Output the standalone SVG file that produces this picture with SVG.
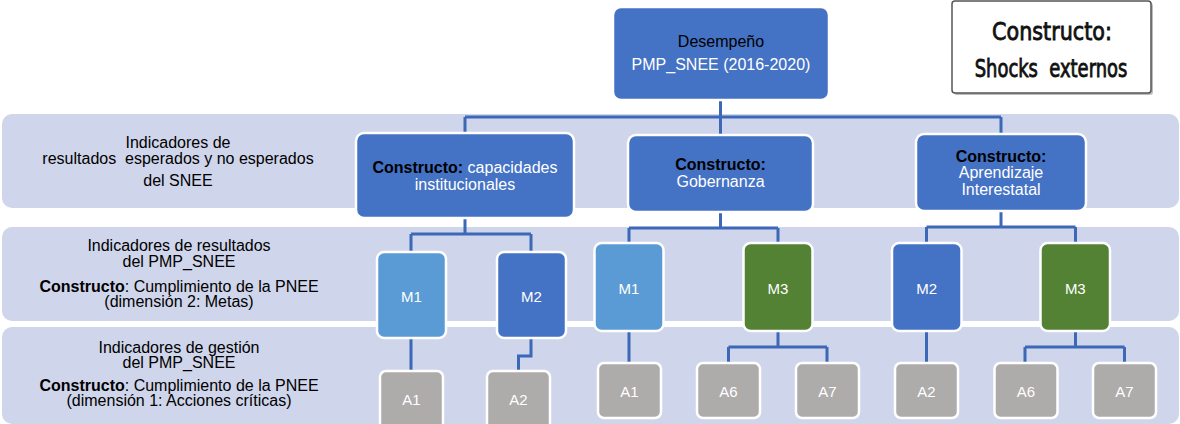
<svg xmlns="http://www.w3.org/2000/svg" width="1180" height="424" viewBox="0 0 1180 424">
<defs>
<style>
.band{fill:#CFD5EA;}
.t{font-family:"Liberation Sans",Arial,sans-serif;font-size:16px;fill:#000;text-anchor:middle;}
.w{fill:#fff;}
.b{font-weight:bold;fill:#000;}
.box{stroke:#fff;stroke-width:2.5;}
.dark{fill:#4472C4;}
.light{fill:#5B9BD5;}
.green{fill:#548235;}
.gray{fill:#AEABAB;}
.lbl{font-family:"Liberation Sans",Arial,sans-serif;font-size:15px;fill:#fff;text-anchor:middle;}
.conn{fill:none;stroke:#3D68B8;stroke-width:3;}
.sh{font-family:"DejaVu Sans Condensed","DejaVu Sans",sans-serif;font-stretch:condensed;fill:#111;stroke:#111;stroke-width:0.8;text-anchor:middle;}
</style>
</defs>
<rect width="1180" height="424" fill="#fff"/>
<g id="bands">
<rect class="band" x="2" y="114" width="1177" height="94" rx="10"/>
<rect class="band" x="2" y="227" width="1177" height="94" rx="10"/>
<rect class="band" x="2" y="327" width="1177" height="97" rx="10"/>
<text class="t" x="178" y="148">Indicadores de</text>
<text class="t" x="178" y="163.5" xml:space="preserve">resultados  esperados y no esperados</text>
<text class="t" x="178" y="186">del SNEE</text>
<text class="t" x="179" y="251">Indicadores de resultados</text>
<text class="t" x="179" y="267">del PMP_SNEE</text>
<text class="t" x="179" y="292"><tspan font-weight="bold">Constructo</tspan>: Cumplimiento de la PNEE</text>
<text class="t" x="179" y="307">(dimensión 2: Metas)</text>
<text class="t" x="179" y="353">Indicadores de gestión</text>
<text class="t" x="179" y="368">del PMP_SNEE</text>
<text class="t" x="179" y="391"><tspan font-weight="bold">Constructo</tspan>: Cumplimiento de la PNEE</text>
<text class="t" x="179" y="406">(dimensión 1: Acciones críticas)</text>
</g>
<g id="connectors">
<path class="conn" d="M720.5 100V117M465 117H1001M465 117V133M720.5 117V135M1001 117V134"/>
<path class="conn" d="M465 218V234M411 234H531M411 234V252M531 234V252"/>
<path class="conn" d="M720.5 212V228M629 228H778M629 228V243M778 228V243"/>
<path class="conn" d="M1001 211V227M926.5 227H1075.5M926.5 227V243M1075.5 227V243"/>
<path class="conn" d="M411 338V371M531 338V356H518.5V371"/>
<path class="conn" d="M629 331V363M778 331V347M728.5 347H827M728.5 347V363M827 347V363"/>
<path class="conn" d="M926.5 331V363M1075.5 331V347M1025 347H1124.5M1025 347V363M1124.5 347V363"/>
</g>
<g id="desempeno">
<rect class="box dark" x="613" y="7" width="216" height="93" rx="8"/>
<text class="t" x="721" y="47">Desempeño</text>
<text class="t w" x="721" y="70">PMP_SNEE (2016-2020)</text>
</g>
<g id="shocks">
<rect x="954" y="3" width="199" height="92" rx="3" fill="#BDBDBD"/>
<rect x="952" y="1" width="199" height="92" rx="3" fill="#fff" stroke="#555" stroke-width="1.5"/>
<g transform="translate(1052 40) scale(0.92 1)">
<text class="sh" x="0" y="0" font-size="25">Constructo:</text>
</g>
<g transform="translate(1051 77) scale(0.83 1)">
<text class="sh" x="0" y="0" font-size="24" xml:space="preserve">Shocks  externos</text>
</g>
</g>
<g id="c-capacidades">
<rect class="box dark" x="356" y="133" width="218" height="85" rx="8"/>
<text class="t" x="465" y="173"><tspan class="b">Constructo:</tspan><tspan class="w"> capacidades</tspan></text>
<text class="t w" x="465" y="190">institucionales</text>
</g>
<g id="c-gobernanza">
<rect class="box dark" x="628" y="135" width="185" height="77" rx="8"/>
<text class="t b" x="720.5" y="170">Constructo:</text>
<text class="t w" x="720.5" y="187">Gobernanza</text>
</g>
<g id="c-aprendizaje">
<rect class="box dark" x="916" y="134" width="170" height="77" rx="8"/>
<text class="t b" x="1001" y="162">Constructo:</text>
<text class="t w" x="1001" y="178">Aprendizaje</text>
<text class="t w" x="1001" y="195">Interestatal</text>
</g>
<g id="m1-a">
<rect class="box light" x="377" y="252" width="69" height="86" rx="7"/>
<text class="lbl" x="411.5" y="302">M1</text>
</g>
<g id="m2-a">
<rect class="box dark" x="497" y="252" width="69" height="86" rx="7"/>
<text class="lbl" x="531.5" y="302">M2</text>
</g>
<g id="m1-b">
<rect class="box light" x="594.5" y="243" width="69" height="88" rx="7"/>
<text class="lbl" x="629" y="293.5">M1</text>
</g>
<g id="m3-b">
<rect class="box green" x="743.5" y="243" width="69" height="88" rx="7"/>
<text class="lbl" x="778" y="293.5">M3</text>
</g>
<g id="m2-c">
<rect class="box dark" x="892" y="243" width="69.5" height="88" rx="7"/>
<text class="lbl" x="926.7" y="293.5">M2</text>
</g>
<g id="m3-c">
<rect class="box green" x="1040.5" y="243" width="69.5" height="88" rx="7"/>
<text class="lbl" x="1075.3" y="293.5">M3</text>
</g>
<g id="a1-a">
<rect class="box gray" x="380" y="371" width="63" height="58" rx="6"/>
<text class="lbl" x="411.5" y="405">A1</text>
</g>
<g id="a2-a">
<rect class="box gray" x="487" y="371" width="63" height="58" rx="6"/>
<text class="lbl" x="518.5" y="405">A2</text>
</g>
<g id="a1-b">
<rect class="box gray" x="598" y="363" width="63" height="55" rx="6"/>
<text class="lbl" x="629.5" y="396.5">A1</text>
</g>
<g id="a6-b">
<rect class="box gray" x="697" y="363" width="63" height="55" rx="6"/>
<text class="lbl" x="728.5" y="396.5">A6</text>
</g>
<g id="a7-b">
<rect class="box gray" x="796" y="363" width="63" height="55" rx="6"/>
<text class="lbl" x="827.5" y="396.5">A7</text>
</g>
<g id="a2-c">
<rect class="box gray" x="895" y="363" width="63" height="55" rx="6"/>
<text class="lbl" x="926.5" y="396.5">A2</text>
</g>
<g id="a6-c">
<rect class="box gray" x="994.5" y="363" width="63" height="55" rx="6"/>
<text class="lbl" x="1026" y="396.5">A6</text>
</g>
<g id="a7-c">
<rect class="box gray" x="1093" y="363" width="63" height="55" rx="6"/>
<text class="lbl" x="1124.5" y="396.5">A7</text>
</g>
</svg>
